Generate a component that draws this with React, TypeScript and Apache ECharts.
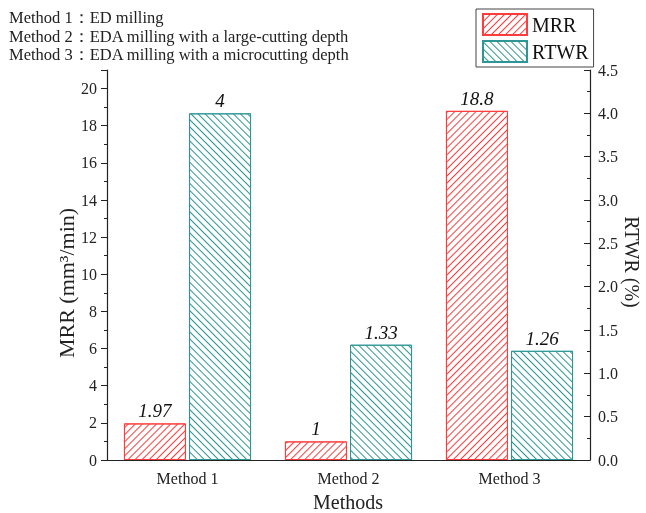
import React, { useEffect, useRef } from "react";
import * as echarts from "echarts";

const categories = ["Method 1", "Method 2", "Method 3"];
const mrrValues = [1.97, 1, 18.8];
const rtwrValues = [4, 1.33, 1.26];
const notes = [
  "Method 1：ED milling",
  "Method 2：EDA milling with a large-cutting depth",
  "Method 3：EDA milling with a microcutting depth",
];

const RED = "#ff3c3c";
const TEAL = "#2e9696";
const FONT = "'Liberation Serif', 'Times New Roman', serif";

export default function App() {
  const ref = useRef<HTMLDivElement>(null);
  useEffect(() => {
    if (!ref.current) return;
    const chart = echarts.init(ref.current, null, { renderer: "svg" });
    const hatch = (color: string, rot: number) => ({
      symbol: "rect",
      symbolSize: 1,
      dashArrayX: [1, 0],
      dashArrayY: [1, 4],
      rotation: rot,
      color,
    });
    const labelStyle = {
      show: true,
      position: "top",
      distance: 3,
      fontFamily: FONT,
      fontStyle: "italic",
      fontSize: 19,
      color: "#111",
    };
    chart.setOption({
      animation: false,
      textStyle: { fontFamily: FONT },
      grid: { left: 107, right: 56, top: 70, bottom: 53 },
      legend: {
        orient: "vertical",
        left: 476,
        top: 9,
        padding: [4, 5, 4, 6],
        itemWidth: 44,
        itemHeight: 21,
        itemGap: 4,
        borderColor: "#444",
        borderWidth: 1,
        icon: "rect",
        textStyle: { fontFamily: FONT, fontSize: 20, color: "#111" },
        data: ["MRR", "RTWR"],
      },
      xAxis: {
        type: "category",
        data: categories,
        axisLine: { lineStyle: { color: "#222", width: 1.2 } },
        axisTick: { show: false },
        axisLabel: { fontFamily: FONT, fontSize: 16, color: "#222", margin: 10 },
      },
      yAxis: [
        {
          type: "value",
          min: 0,
          max: 21,
          interval: 2,
          axisLine: { show: true, lineStyle: { color: "#222", width: 1.2 } },
          axisTick: { show: true, inside: false, length: 6, lineStyle: { color: "#222" } },
          minorTick: { show: true, splitNumber: 2, length: 3, lineStyle: { color: "#222" } },
          splitLine: { show: false },
          axisLabel: {
            fontFamily: FONT,
            fontSize: 16,
            color: "#222",
            margin: 10,
            showMaxLabel: false,
          },
        },
        {
          type: "value",
          min: 0,
          max: 4.5,
          interval: 0.5,
          position: "right",
          axisLine: { show: true, lineStyle: { color: "#222", width: 1.2 } },
          axisTick: { show: true, inside: true, length: 6, lineStyle: { color: "#222" } },
          minorTick: { show: true, splitNumber: 2, length: 3, lineStyle: { color: "#222" } },
          splitLine: { show: false },
          axisLabel: {
            fontFamily: FONT,
            fontSize: 16,
            color: "#222",
            margin: 8,
            formatter: (v: number) => v.toFixed(1),
          },
        },
      ],
      series: [
        {
          name: "MRR",
          type: "bar",
          yAxisIndex: 0,
          data: mrrValues,
          barWidth: 62,
          barGap: "5%",
          itemStyle: {
            color: "#fff",
            borderColor: RED,
            borderWidth: 1,
            decal: hatch(RED, -Math.PI / 4),
          },
          label: labelStyle,
        },
        {
          name: "RTWR",
          type: "bar",
          yAxisIndex: 1,
          data: rtwrValues,
          barWidth: 62,
          barGap: "5%",
          itemStyle: {
            color: "#fff",
            borderColor: TEAL,
            borderWidth: 1,
            decal: hatch(TEAL, Math.PI / 4),
          },
          label: labelStyle,
        },
      ],
      graphic: [
        ...notes.map((t, i) => ({
          type: "text",
          left: 9,
          top: 9 + i * 18.5,
          style: { text: t, fontFamily: FONT, fontSize: 16.5, fill: "#222" },
        })),
        {
          type: "text",
          x: 66,
          y: 283,
          rotation: Math.PI / 2,
          style: {
            text: "MRR (mm³/min)",
            fontFamily: FONT,
            fontSize: 22,
            fill: "#222",
            align: "center",
            verticalAlign: "middle",
          },
        },
        {
          type: "text",
          x: 632,
          y: 262,
          rotation: -Math.PI / 2,
          style: {
            text: "RTWR (%)",
            fontFamily: FONT,
            fontSize: 20,
            fill: "#222",
            align: "center",
            verticalAlign: "middle",
          },
        },
        {
          type: "text",
          x: 348,
          y: 502,
          style: {
            text: "Methods",
            fontFamily: FONT,
            fontSize: 20,
            fill: "#222",
            align: "center",
            verticalAlign: "middle",
          },
        },
      ],
    });
    return () => chart.dispose();
  }, []);
  return <div ref={ref} style={{ width: 646, height: 513, position: "fixed", left: 0, top: 0 }} />;
}
